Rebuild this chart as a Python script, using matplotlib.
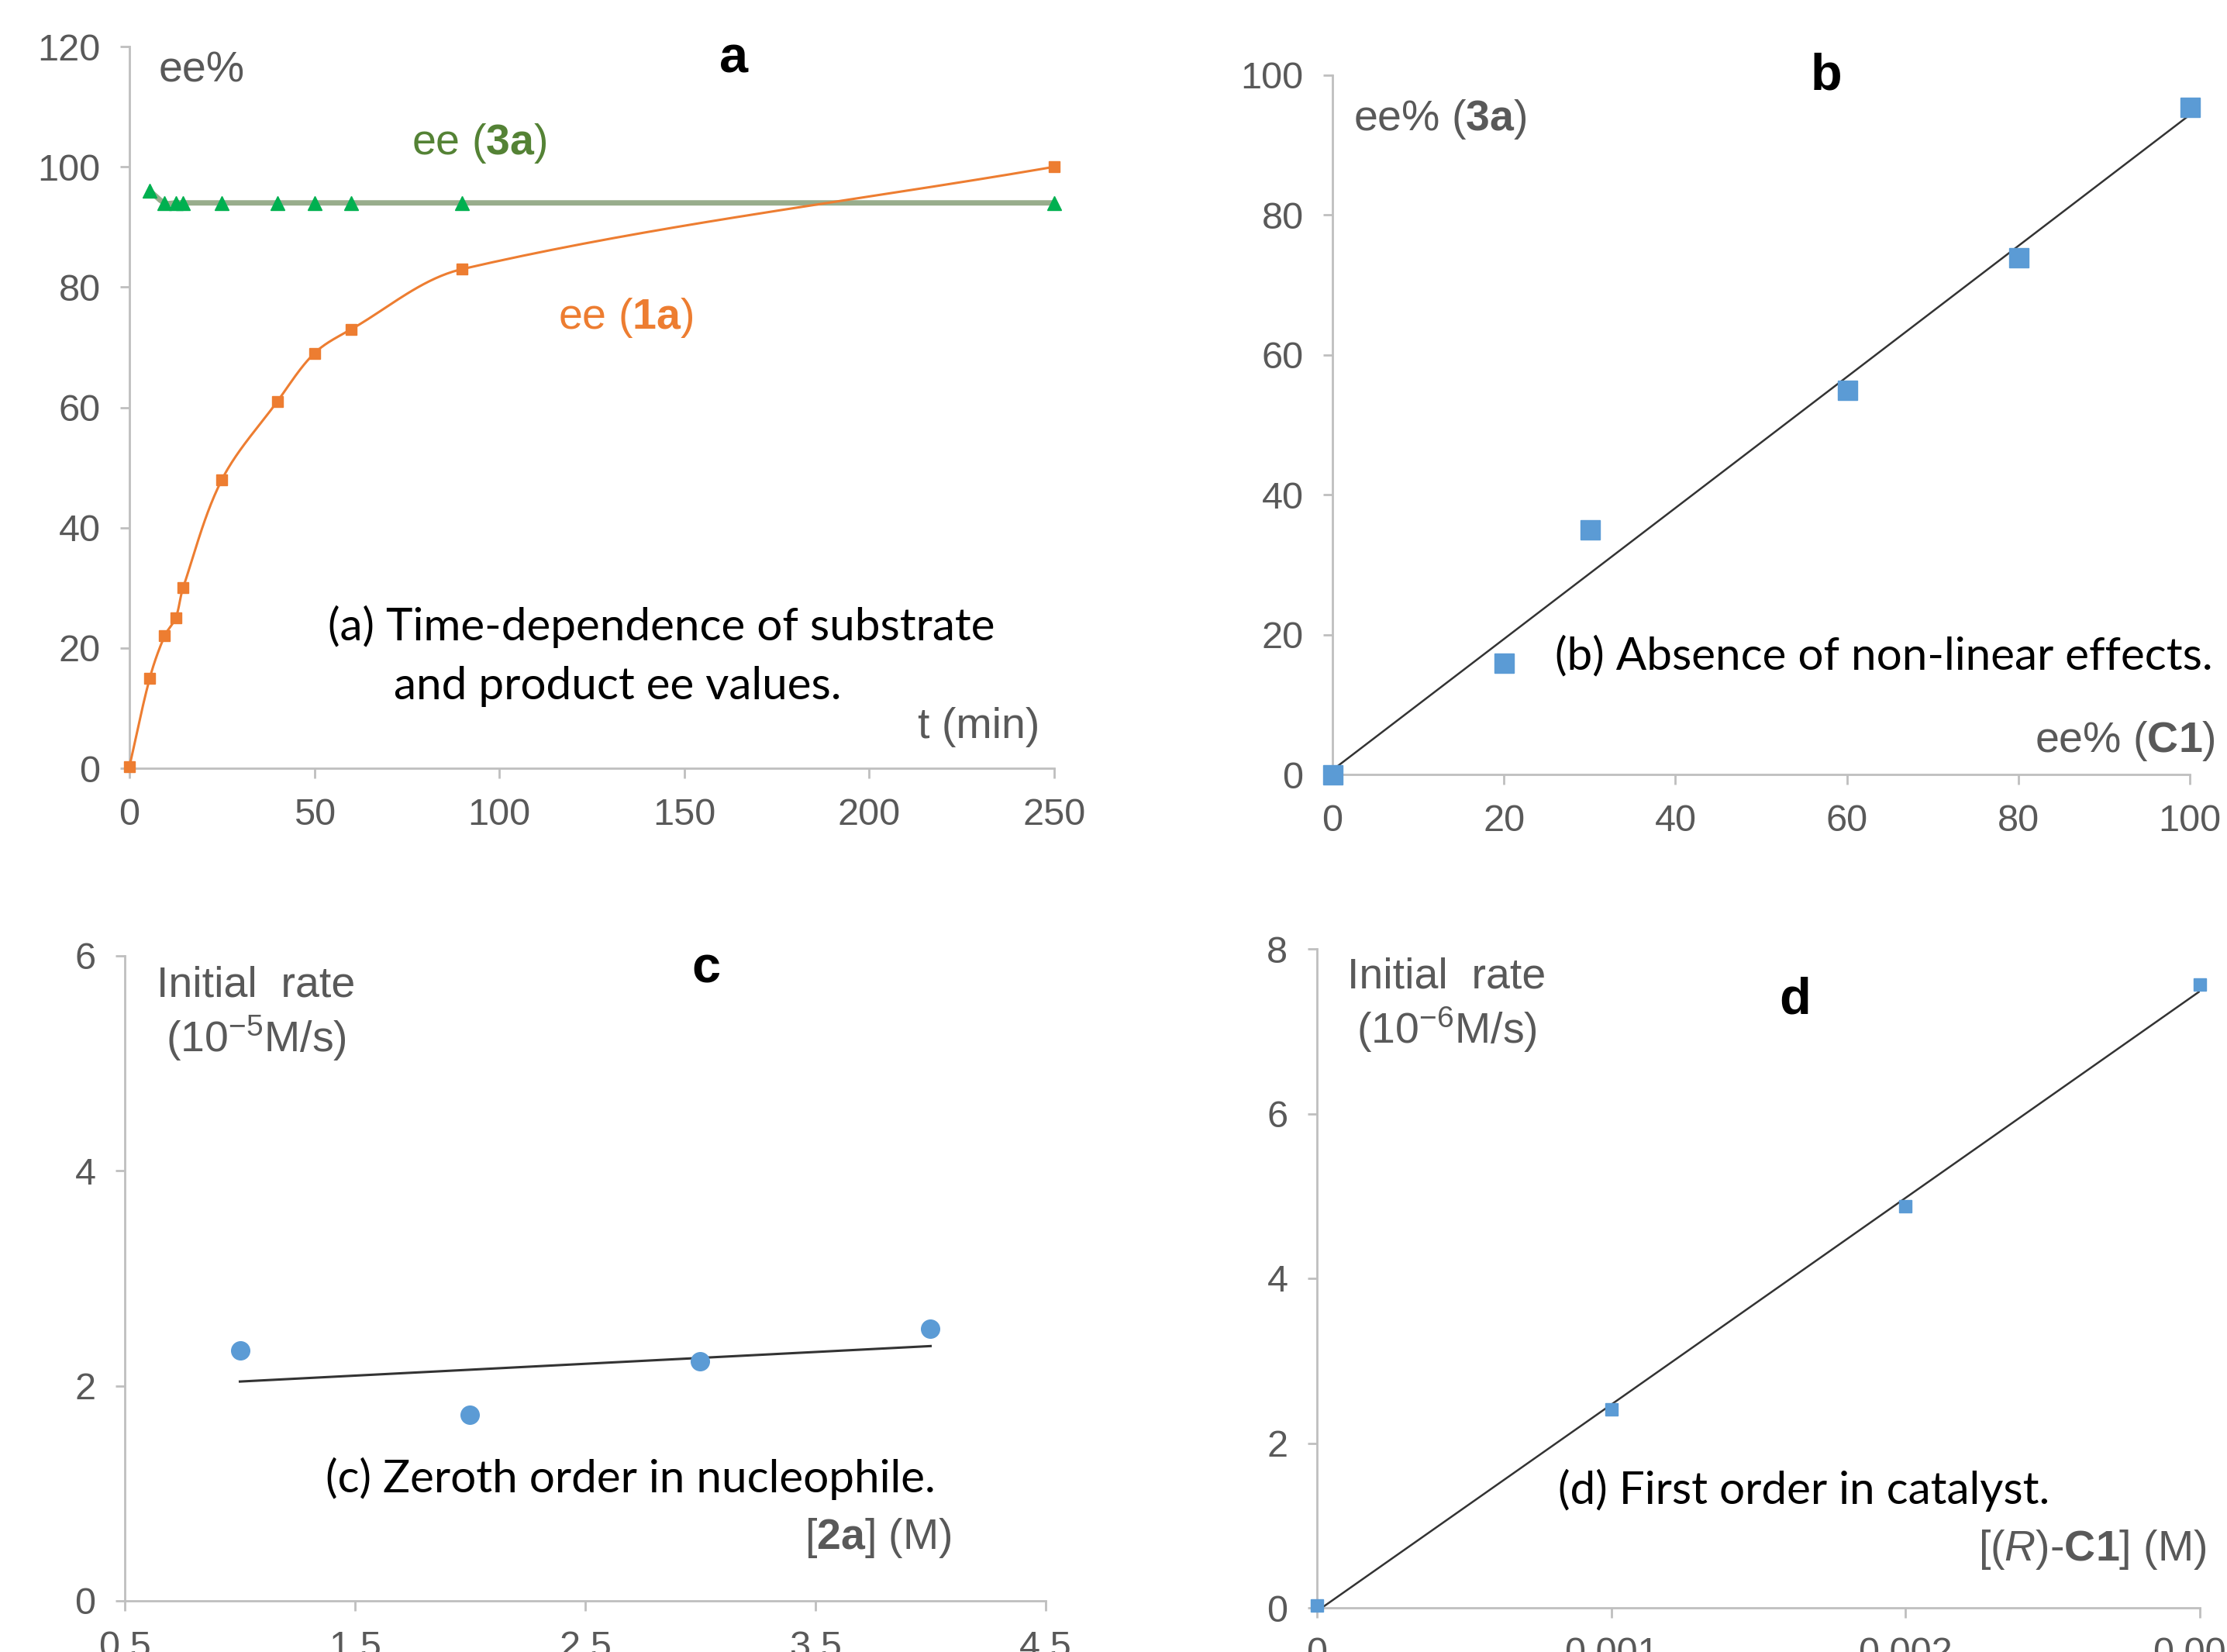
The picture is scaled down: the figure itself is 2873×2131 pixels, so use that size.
import numpy as np
import matplotlib
matplotlib.use("Agg")
import matplotlib.pyplot as plt

# (a) time course of ee
t_1a = [0, 5.5, 9.5, 12.5, 14.5, 25, 40, 50, 60, 90, 250]
ee_1a = [0.3, 15, 22, 25, 30, 48, 61, 69, 73, 83, 100]
t_3a = [5.5, 9.5, 12.5, 14.5, 25, 40, 50, 60, 90, 250]
ee_3a = [96, 94, 94, 94, 94, 94, 94, 94, 94, 94]

# (b) non-linear effect study
ee_c1 = [0, 20, 30, 60, 80, 100]
ee_3a_nle = [0, 16, 35, 55, 74, 95.5]

# (c) order in nucleophile
conc_2a = [1, 2, 3, 4]
rate_2a = [2.33, 1.73, 2.23, 2.53]

# (d) order in catalyst
conc_c1 = [0, 0.001, 0.002, 0.003]
rate_c1 = [0.03, 2.41, 4.88, 7.57]

W, H = 2873, 2131
plt.rcParams.update({
    "font.family": ["Liberation Sans", "DejaVu Sans"],
    "mathtext.fontset": "custom",
    "mathtext.rm": "Liberation Sans",
    "mathtext.bf": "Liberation Sans:bold",
    "mathtext.it": "Liberation Sans:italic",
})

GRAY_AX = "#bfbfbf"
GRAY_TXT = "#595959"
ORANGE = "#ED7D31"
BLUE = "#5B9BD5"

fig = plt.figure(figsize=(W / 100, H / 100), dpi=100)


def box(x0, y0, x1, y1):
    # pixel box (top-left origin) -> axes rect
    return [x0 / W, 1 - y1 / H, (x1 - x0) / W, (y1 - y0) / H]


def ftext(x, y, s, **kw):
    fig.text(x / W, 1 - y / H, s, **kw)


def style(ax):
    for s in ("top", "right"):
        ax.spines[s].set_visible(False)
    for s in ("left", "bottom"):
        ax.spines[s].set_color(GRAY_AX)
        ax.spines[s].set_linewidth(2)
    ax.tick_params(direction="out", length=9, width=2, color=GRAY_AX,
                   labelcolor=GRAY_TXT, labelsize=35, pad=18)


def smooth(ax, x, y, n=40):
    # Excel-like smoothed line: bezier through points, in screen space,
    # tangent length tied to each segment so long segments don't overshoot
    x0, x1 = ax.get_xlim()
    y0, y1 = ax.get_ylim()
    bb = ax.get_position()
    sx = bb.width * W / (x1 - x0)
    sy = bb.height * H / (y1 - y0)
    p = np.column_stack([(np.asarray(x) - x0) * sx, (np.asarray(y) - y0) * sy])
    m = len(p)
    tang = []
    for i in range(m):
        d = p[min(i + 1, m - 1)] - p[max(i - 1, 0)]
        tang.append(d / np.linalg.norm(d))
    out = [p[0]]
    s = np.linspace(0, 1, n)[1:, None]
    for i in range(m - 1):
        pb, pc = p[i], p[i + 1]
        L = np.linalg.norm(pc - pb) / 3
        c1 = pb + tang[i] * L
        c2 = pc - tang[i + 1] * L
        seg = ((1 - s) ** 3) * pb + 3 * ((1 - s) ** 2) * s * c1 \
            + 3 * (1 - s) * s ** 2 * c2 + s ** 3 * pc
        out.extend(seg)
    out = np.array(out)
    return out[:, 0] / sx + x0, out[:, 1] / sy + y0


# ---- panel a
ax = fig.add_axes(box(167, 60, 1360, 991))
ax.set_xlim(0, 250)
ax.set_ylim(0, 120)
style(ax)
ax.set_xticks(range(0, 251, 50))
ax.set_yticks(range(0, 121, 20))
gx, gy = smooth(ax, t_3a, ee_3a)
ax.plot(gx, gy, color="#98AD8C", lw=5, zorder=2)
ax.plot(t_3a, ee_3a, ls="none", marker="^", ms=13, color="#00B050",
        clip_on=False, zorder=4)
ox, oy = smooth(ax, t_1a, ee_1a)
ax.plot(ox, oy, color=ORANGE, lw=2.2, zorder=3)
ax.plot(t_1a, ee_1a, ls="none", marker="s", ms=10, color=ORANGE,
        clip_on=False, zorder=5)

ftext(205, 92, "ee%", fontsize=40, color=GRAY_TXT, va="center")
ftext(947, 77, "a", fontsize=48, fontweight="bold", ha="center", va="center")
ftext(531, 185, r"ee ($\mathbf{3a}$)", fontsize=40, color="#548235", va="center")
ftext(720, 410, r"ee ($\mathbf{1a}$)", fontsize=40, color=ORANGE, va="center")
ftext(423, 808, "(a) Time-dependence of substrate", fontsize=42,
      family="Lato", va="center")
ftext(508, 885, "and product ee values.", fontsize=42, family="Lato", va="center")
ftext(1341, 938, "t (min)", fontsize=40, color=GRAY_TXT, ha="right", va="center")

# ---- panel b
ax = fig.add_axes(box(1719, 97, 2825, 999))
ax.set_xlim(0, 100)
ax.set_ylim(0, 100)
style(ax)
ax.set_xticks(range(0, 101, 20))
ax.set_yticks(range(0, 101, 20))
k, b0 = np.polyfit(ee_c1, ee_3a_nle, 1)
xs = np.array([min(ee_c1), max(ee_c1)])
ax.plot(xs, k * xs + b0, color="#333333", lw=1.8, zorder=2)
ax.plot(ee_c1, ee_3a_nle, ls="none", marker="s", ms=18, color=BLUE,
        clip_on=False, zorder=3)

ftext(1746, 154, r"ee% ($\mathbf{3a}$)", fontsize=40, color=GRAY_TXT, va="center")
ftext(2356, 99, "b", fontsize=48, fontweight="bold", ha="center", va="center")
ftext(2006, 847, "(b) Absence of non-linear effects.", fontsize=42,
      family="Lato", va="center")
ftext(2858, 956, r"ee% ($\mathbf{C1}$)", fontsize=40, color=GRAY_TXT,
      ha="right", va="center")

# ---- panel c
ax = fig.add_axes(box(161, 1233, 1349, 2065))
ax.set_xlim(0.5, 4.5)
ax.set_ylim(0, 6)
style(ax)
ax.set_xticks([0.5, 1.5, 2.5, 3.5, 4.5])
ax.set_xticklabels(["0.5", "1.5", "2.5", "3.5", "4.5"])
ax.set_yticks([0, 2, 4, 6])
k, b0 = np.polyfit(conc_2a, rate_2a, 1)
xs = np.array([min(conc_2a), max(conc_2a)])
ax.plot(xs, k * xs + b0, color="#333333", lw=2.2, zorder=2)
ax.plot(conc_2a, rate_2a, ls="none", marker="o", ms=17, color=BLUE,
        clip_on=False, zorder=3)

ftext(330, 1308, "Initial  rate\n(10$^{-5}$M/s)", fontsize=40, color=GRAY_TXT,
      ha="center", va="center", linespacing=1.2)
ftext(911, 1250, "c", fontsize=48, fontweight="bold", ha="center", va="center")
ftext(420, 1907, "(c) Zeroth order in nucleophile.", fontsize=42,
      family="Lato", va="center")
ftext(1228, 1984, r"[$\mathbf{2a}$] (M)", fontsize=40, color=GRAY_TXT,
      ha="right", va="center")

# ---- panel d
ax = fig.add_axes(box(1699, 1224, 2838, 2074))
ax.set_xlim(0, 0.003)
ax.set_ylim(0, 8)
style(ax)
ax.set_xticks([0, 0.001, 0.002, 0.003])
ax.set_xticklabels(["0", "0.001", "0.002", "0.003"])
ax.set_yticks([0, 2, 4, 6, 8])
k, b0 = np.polyfit(conc_c1, rate_c1, 1)
xs = np.array([min(conc_c1), max(conc_c1)])
ax.plot(xs, k * xs + b0, color="#333333", lw=1.8, zorder=2)
ax.plot(conc_c1, rate_c1, ls="none", marker="s", ms=12, color=BLUE,
        clip_on=False, zorder=3)

ftext(1866, 1297, "Initial  rate\n(10$^{-6}$M/s)", fontsize=40, color=GRAY_TXT,
      ha="center", va="center", linespacing=1.2)
ftext(2316, 1290, "d", fontsize=48, fontweight="bold", ha="center", va="center")
ftext(2010, 1922, "(d) First order in catalyst.", fontsize=42,
      family="Lato", va="center")
ftext(2846, 1999, r"[($\mathit{R}$)-$\mathbf{C1}$] (M)", fontsize=40,
      color=GRAY_TXT, ha="right", va="center")

fig.savefig("out.png", dpi=100, facecolor="white")
